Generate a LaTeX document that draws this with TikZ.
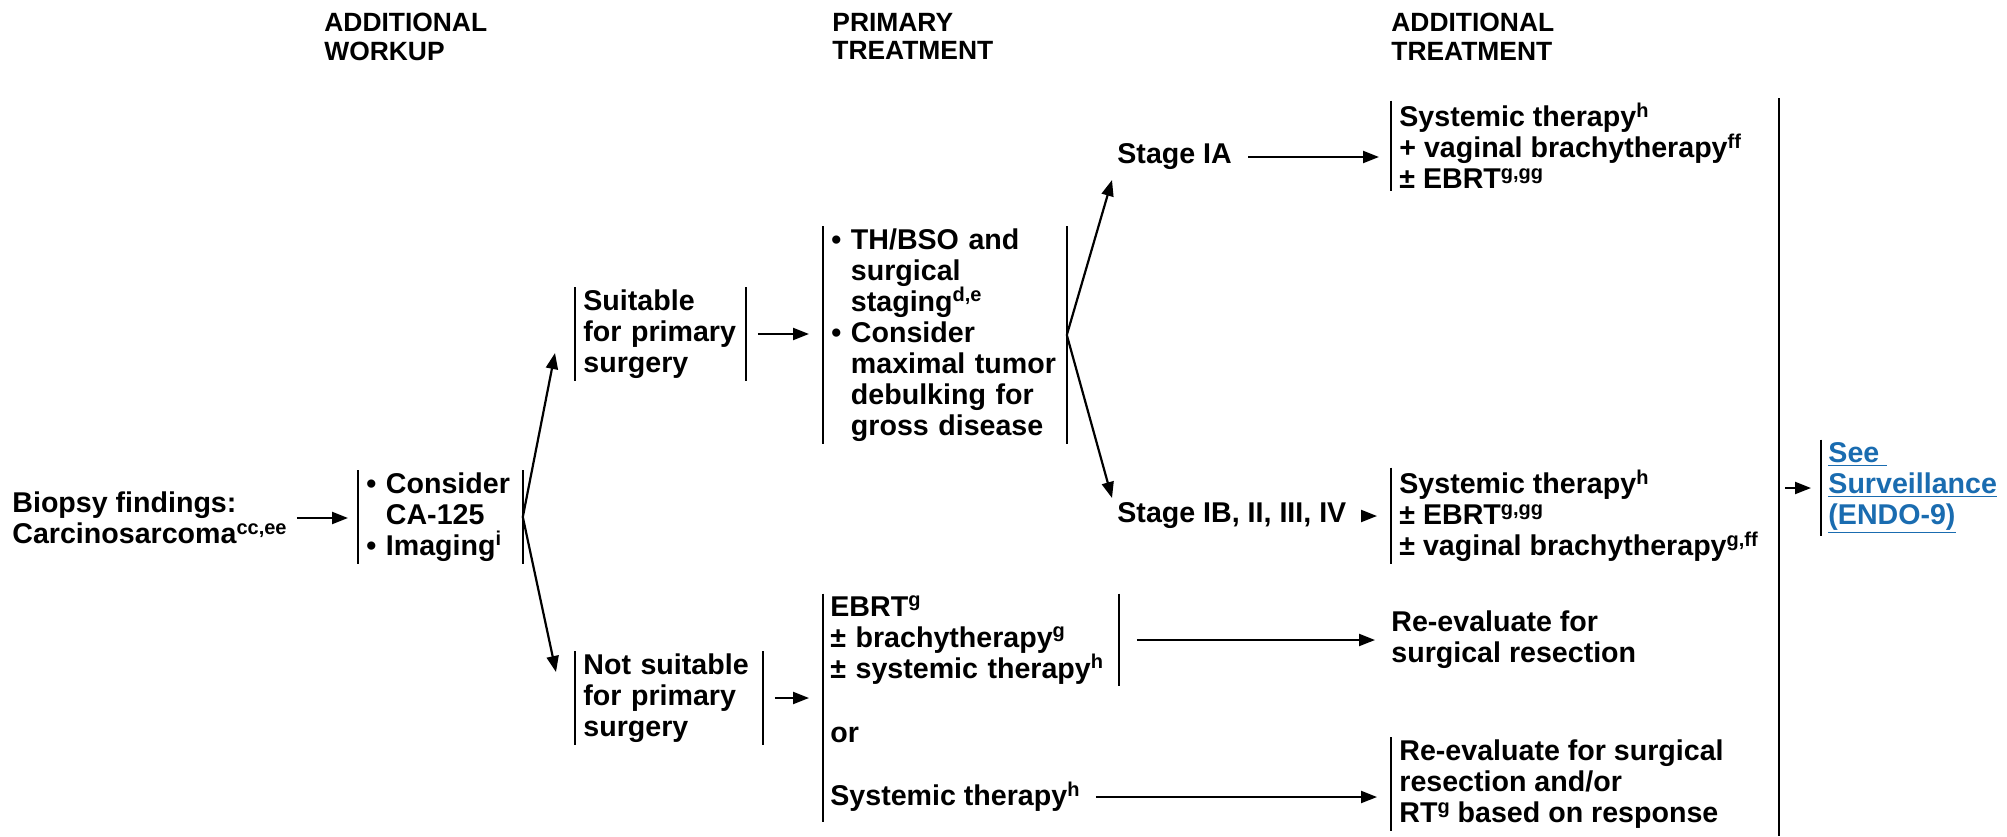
\documentclass[tikz,border=0pt]{standalone}
\usepackage{fontspec}
\setmainfont{Liberation Sans}
\usetikzlibrary{arrows.meta,calc}
\definecolor{linkblue}{HTML}{1A6CB0}
\newcommand\sps[1]{\raisebox{0.62ex}{\fontsize{10}{10}\selectfont #1}}
\begin{document}
\begin{tikzpicture}[x=0.5pt,y=-0.5pt,
  every node/.style={font=\bfseries\fontsize{14.3}{15.5}\selectfont, inner sep=0pt},
  hdr/.style={font=\bfseries\fontsize{13.2}{14.2}\selectfont, align=left, anchor=north west},
  txt/.style={align=left, anchor=west},
  bx/.style={align=left, anchor=west, inner xsep=4pt, inner ysep=1pt},
  arr/.style={-{Triangle[length=8pt,width=6pt]}, line width=1.1pt},
  bar/.style={line width=1.25pt},
]
\useasboundingbox (0,0) rectangle (2007,836);

% headers
\node[hdr] (h1) at (324,13) {ADDITIONAL\\WORKUP};
\node[hdr] (h2) at (832,13) {PRIMARY\\TREATMENT};
\node[hdr] (h3) at (1391,13) {ADDITIONAL\\TREATMENT};

% left column
\node[txt] (bio) at (12,518) {Biopsy findings:\\Carcinosarcoma\sps{cc,ee}};
\node[bx, text width=74pt] (cons) at (358,517) {• Consider\\\hphantom{• }CA-125\\• Imaging\sps{i}};
\draw[bar] (cons.north west) -- (cons.south west);
\draw[bar] (cons.north east) -- (cons.south east);
\draw[arr, shorten <=5pt, shorten >=5pt] (bio.east) -- (bio.east -| cons.west);

% suitable / not suitable
\node[bx, text width=77pt] (suit) at (575,334) {Suitable\\for primary\\surgery};
\draw[bar] (suit.north west) -- (suit.south west);
\draw[bar] (suit.north east) -- (suit.south east);
\node[bx, text width=85.5pt] (ns) at (575,698) {Not suitable\\for primary\\surgery};
\draw[bar] (ns.north west) -- (ns.south west);
\draw[bar] (ns.north east) -- (ns.south east);

\coordinate (tS) at (555,353);
\coordinate (tN) at (556,672);
\draw[arr] (cons.east) -- (tS);
\draw[arr] (cons.east) -- (tN);

% primary treatment
\node[bx, text width=113.5pt] (th) at (823,335) {• TH/BSO and\\\hphantom{• }surgical\\\hphantom{• }staging\sps{d,e}\\• Consider\\\hphantom{• }maximal tumor\\\hphantom{• }debulking for\\\hphantom{• }gross disease};
\draw[bar] (th.north west) -- (th.south west);
\draw[bar] (th.north east) -- (th.south east);
\draw[arr, shorten <=6pt, shorten >=7pt] (suit.east) -- (suit.east -| th.west);

\node[bx, text width=140.5pt, inner xsep=3.5pt] (eb) at (823,640) {EBRT\sps{g}\\± brachytherapy\sps{g}\\± systemic therapy\sps{h}};
\node[txt] (or) at (830,735) {or};
\node[txt] (sy) at (830,797) {Systemic therapy\sps{h}};
\draw[bar] (eb.north west) -- ($(eb.west |- sy.south)+(0,10)$);
\draw[bar] (eb.north east) -- (eb.south east);
\draw[arr, shorten <=6pt, shorten >=7pt] (ns.east) -- (ns.east -| eb.west);

% stages
\node[txt] (sa) at (1117,157) {Stage IA};
\node[txt] (sb) at (1117,516) {Stage IB, II, III, IV};
\coordinate (tA) at (1112,180);
\coordinate (tB) at (1112,498);
\draw[arr] (th.east) -- (tA);
\draw[arr] (th.east) -- (tB);

% additional treatment
\node[bx] (b1) at (1391,146) {Systemic therapy\sps{h}\\+ vaginal brachytherapy\sps{ff}\\± EBRT\sps{g,gg}};
\draw[bar] (b1.north west) -- (b1.south west);
\draw[arr, shorten <=8pt, shorten >=6pt] (sa.east) -- (sa.east -| b1.west);

\node[bx] (b2) at (1391,516) {Systemic therapy\sps{h}\\± EBRT\sps{g,gg}\\± vaginal brachytherapy\sps{g,ff}};
\draw[bar] (b2.north west) -- (b2.south west);
\draw[arr, shorten <=8pt, shorten >=7pt] (sb.east) -- (sb.east -| b2.west);

\node[txt] (re1) at (1391,640) {Re-evaluate for\\surgical resection};
\draw[arr, shorten <=9pt, shorten >=8pt] (eb.east) -- (eb.east -| re1.west);

\node[bx] (re2) at (1391,784) {Re-evaluate for surgical\\resection and/or\\RT\sps{g} based on response};
\draw[bar] (re2.north west) -- (re2.south west);
\draw[arr, shorten <=8pt, shorten >=7pt] (sy.east) -- (sy.east -| re2.west);

% collector and surveillance
\coordinate (vt) at (1779,98);
\coordinate (vb) at (1779,836);
\draw[bar] (vt) -- (vb);
\node[bx, text=linkblue, inner xsep=3.5pt] (see) at (1821,488) {\underline{See\ }\\\underline{Surveillance}\\\underline{(ENDO-9)}};
\draw[bar] (see.north west) -- (see.south west);
\draw[arr, shorten <=3pt, shorten >=5pt] (see.west -| vt) -- (see.west);
\end{tikzpicture}
\end{document}
